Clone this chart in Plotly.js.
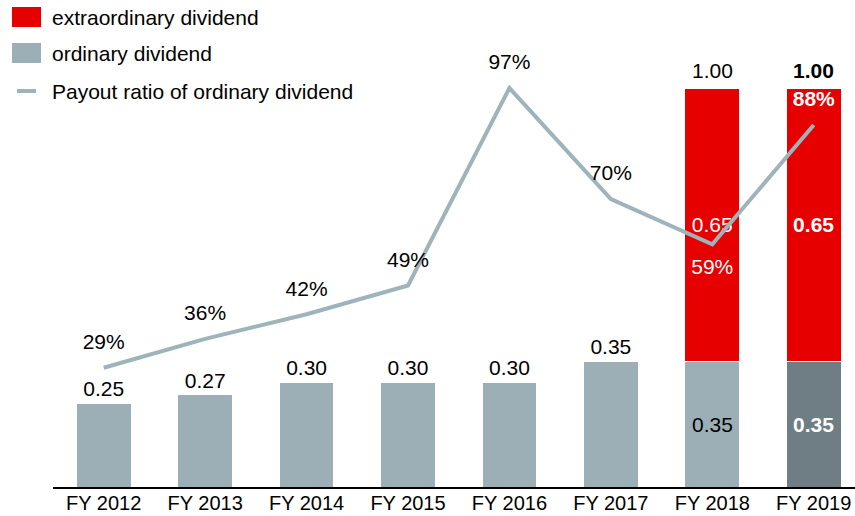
<!DOCTYPE html>
<html>
<head>
<meta charset="utf-8">
<script src="https://cdn.plot.ly/plotly-3.0.1.min.js"></script>
<style>html,body{margin:0;padding:0;background:#fff;}#chart{width:855px;height:516px;}</style>
</head>
<body>
<div id="chart"></div>
<script>
const categories = ['FY 2012','FY 2013','FY 2014','FY 2015','FY 2016','FY 2017','FY 2018','FY 2019'];
const ordinaryDividend = [0.25, 0.27, 0.30, 0.30, 0.30, 0.35, 0.35, 0.35];
const extraordinaryDividend = [null, null, null, null, null, null, 0.65, 0.65];
const payoutRatio = [29, 36, 42, 49, 97, 70, 59, 88];

const RED = '#e60000', GRAY = '#9cafb7', DARK = '#6f7d85', LINE = '#9fb3bb';
const FONT = 'Liberation Sans, Arial, sans-serif';
const FS = 21;
const last = categories.length - 1;
const Y_MIN = 0.05;

const fmt = (v, bold) => bold ? '<b>' + v.toFixed(2) + '</b>' : v.toFixed(2);

const ordTrace = {
  type: 'bar', x: categories, y: ordinaryDividend, yaxis: 'y',
  width: 0.54,
  marker: {color: ordinaryDividend.map((v, i) => i === last ? DARK : GRAY), line: {color: '#fff', width: 1}},
  text: ordinaryDividend.map((v, i) => extraordinaryDividend[i] ? '' : fmt(v, false)),
  textposition: 'outside',
  textangle: 0,
  constraintext: 'none',
  cliponaxis: false,
  outsidetextfont: {family: FONT, size: FS, color: '#000'},
  hoverinfo: 'skip', showlegend: false
};

const extTrace = {
  type: 'bar', x: categories, y: extraordinaryDividend, yaxis: 'y',
  width: 0.54,
  marker: {color: RED, line: {color: '#fff', width: 1}},
  text: extraordinaryDividend.map((v, i) => v == null ? '' : fmt(v, i === last)),
  textposition: 'inside', insidetextanchor: 'middle', textangle: 0, constraintext: 'none',
  textfont: {family: FONT, size: FS, color: '#fff'},
  hoverinfo: 'skip', showlegend: false
};

const lineTrace = {
  type: 'scatter', mode: 'lines+markers+text', x: categories, y: payoutRatio, yaxis: 'y2',
  line: {color: LINE, width: 4},
  marker: {size: 20, opacity: 0, color: LINE},
  text: payoutRatio.map((v, i) => i === last ? '<b>' + v + '%</b>' : v + '%'),
  textposition: payoutRatio.map((v, i) => i === last - 1 ? 'bottom center' : 'top center'),
  textfont: {family: FONT, size: FS, color: payoutRatio.map((v, i) => i >= last - 1 ? '#fff' : '#000')},
  cliponaxis: false, hoverinfo: 'skip', showlegend: false
};

const annotations = [];
categories.forEach((c, i) => {
  if (extraordinaryDividend[i]) {
    const t = ordinaryDividend[i] + extraordinaryDividend[i];
    annotations.push({
      x: c, y: t, xref: 'x', yref: 'y', yanchor: 'bottom', yshift: 4,
      text: fmt(t, i === last), showarrow: false, font: {family: FONT, size: FS, color: '#000'}
    });
    // label of the visible ordinary segment
    annotations.push({
      x: c, y: (Y_MIN + ordinaryDividend[i]) / 2, xref: 'x', yref: 'y', yanchor: 'middle',
      text: fmt(ordinaryDividend[i], i === last), showarrow: false,
      font: {family: FONT, size: FS, color: i === last ? '#fff' : '#000'}
    });
  }
});

// custom legend (pixel-based paper coords)
const L = 53, W = 802, H = 487;
const px = v => (v - L) / W, py = v => (H - v) / H;
const legendItems = [
  {label: 'extraordinary dividend', color: RED, kind: 'box', y: 17},
  {label: 'ordinary dividend', color: GRAY, kind: 'box', y: 53},
  {label: 'Payout ratio of ordinary dividend', color: LINE, kind: 'line', y: 91}
];
const shapes = [];
legendItems.forEach(it => {
  if (it.kind === 'box') {
    shapes.push({type: 'rect', xref: 'paper', yref: 'paper', x0: px(12), x1: px(41), y0: py(it.y - 10), y1: py(it.y + 10), fillcolor: it.color, line: {width: 0}});
  } else {
    shapes.push({type: 'line', xref: 'paper', yref: 'paper', x0: px(17), x1: px(36), y0: py(it.y), y1: py(it.y), line: {color: it.color, width: 4}});
  }
  annotations.push({xref: 'paper', yref: 'paper', x: px(50), y: py(it.y), xanchor: 'left', yanchor: 'middle', text: it.label, showarrow: false, font: {family: FONT, size: FS, color: '#000'}});
});

const layout = {
  width: 855, height: 516,
  margin: {l: L, r: 0, t: 0, b: 29, pad: 0},
  paper_bgcolor: '#fff', plot_bgcolor: '#fff',
  barmode: 'stack',
  font: {family: FONT, size: FS, color: '#000'},
  xaxis: {type: 'category', range: [-0.5, 7.407], showline: true, linecolor: '#000', linewidth: 1.5, ticks: '', ticklabelstandoff: -3, showgrid: false, zeroline: false, tickfont: {family: FONT, size: 20, color: '#000'}, fixedrange: true},
  yaxis: {range: [Y_MIN, Y_MIN + 487 / 420], visible: false, showgrid: false, zeroline: false, fixedrange: true},
  yaxis2: {range: [0, 487 / 4.113], overlaying: 'y', side: 'right', visible: false, showgrid: false, zeroline: false, fixedrange: true},
  showlegend: false,
  shapes: shapes,
  annotations: annotations
};

Plotly.newPlot('chart', [ordTrace, extTrace, lineTrace], layout, {displayModeBar: false, staticPlot: true});
</script>
</body>
</html>
